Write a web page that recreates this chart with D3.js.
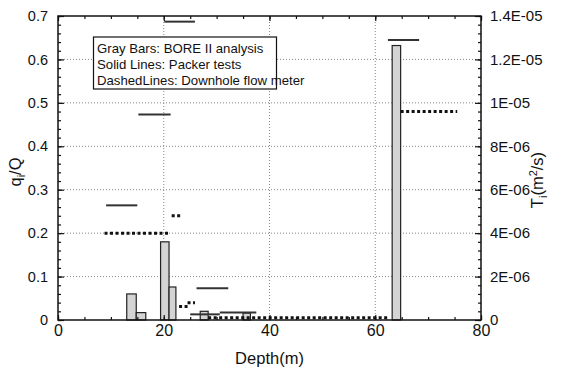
<!DOCTYPE html>
<html>
<head>
<meta charset="utf-8">
<script src="https://cdn.jsdelivr.net/npm/d3@7"></script>
<style>
  html, body { margin: 0; padding: 0; background: #fff; }
  svg { display: block; font-family: "Liberation Sans", Arial, Helvetica, sans-serif; }
</style>
</head>
<body>
<svg id="chart" width="566" height="370"></svg>
<script>
// BORE II inflow fractions per depth interval: [top (m), bottom (m), q_i/Q]
const boreBars = [
  [13.0, 14.8, 0.060],
  [14.8, 16.6, 0.017],
  [19.4, 21.0, 0.180],
  [21.0, 22.3, 0.076],
  [26.9, 28.4, 0.020],
  [35.0, 36.4, 0.016],
  [63.2, 64.8, 0.632]
];

// Packer test transmissivities: [top (m), bottom (m), T (m^2/s)]
const packerTests = [
  [9.1, 15.0, 5.28e-6],
  [15.2, 21.3, 9.46e-6],
  [20.1, 25.9, 1.374e-5],
  [26.2, 32.2, 1.46e-6],
  [25.0, 30.6, 2.6e-7],
  [30.6, 37.5, 3.4e-7],
  [62.4, 68.3, 1.29e-5]
];

// Downhole flow meter inflow fractions: [top (m), bottom (m), q_i/Q]
const flowMeter = [
  [8.8, 21.2, 0.200],
  [21.5, 23.1, 0.240],
  [22.9, 24.5, 0.031],
  [24.5, 25.9, 0.040],
  [28.4, 62.5, 0.005],
  [64.8, 75.5, 0.480]
];

const depthTicks = [0, 20, 40, 60, 80];
const qTicks = [0, 0.1, 0.2, 0.3, 0.4, 0.5, 0.6, 0.7];
const tTicks = [0, 2e-6, 4e-6, 6e-6, 8e-6, 1e-5, 1.2e-5, 1.4e-5];
const tTickLabels = ["0", "2E-06", "4E-06", "6E-06", "8E-06", "1E-05", "1.2E-05", "1.4E-05"];
const legendLines = [
  "Gray Bars: BORE II analysis",
  "Solid Lines: Packer tests",
  "DashedLines: Downhole flow meter"
];

const svg = d3.select("#chart");
const L = 58, R = 481, T = 16, B = 320;

const x = d3.scaleLinear().domain([0, 80]).range([L, R]);
const yQ = d3.scaleLinear().domain([0, 0.7]).range([B, T]);
const yT = d3.scaleLinear().domain([0, 1.4e-5]).range([B, T]);

// dotted grid at the major ticks
const grid = svg.append("g").attr("stroke", "#888").attr("stroke-width", 1).attr("stroke-dasharray", "1,2");
grid.selectAll("line.h").data(qTicks.slice(1, -1)).join("line")
  .attr("x1", L).attr("x2", R).attr("y1", d => yQ(d)).attr("y2", d => yQ(d));
grid.selectAll("line.v").data(depthTicks.slice(1, -1)).join("line")
  .attr("y1", T).attr("y2", B).attr("x1", d => x(d)).attr("x2", d => x(d));

// BORE II bars
svg.append("g").selectAll("rect").data(boreBars).join("rect")
  .attr("x", d => x(d[0]))
  .attr("width", d => x(d[1]) - x(d[0]))
  .attr("y", d => yQ(d[2]))
  .attr("height", d => yQ(0) - yQ(d[2]))
  .attr("fill", "#d4d4d4")
  .attr("stroke", "#222")
  .attr("stroke-width", 1.2);

// Packer tests (solid)
svg.append("g").selectAll("line").data(packerTests).join("line")
  .attr("x1", d => x(d[0])).attr("x2", d => x(d[1]))
  .attr("y1", d => yT(d[2])).attr("y2", d => yT(d[2]))
  .attr("stroke", "#333").attr("stroke-width", 2);

// Flow meter (heavy dots)
svg.append("g").selectAll("line").data(flowMeter).join("line")
  .attr("x1", d => x(d[0])).attr("x2", d => x(d[1]))
  .attr("y1", d => yQ(d[2])).attr("y2", d => yQ(d[2]))
  .attr("stroke", "#111").attr("stroke-width", 3)
  .attr("stroke-dasharray", "3,2.5");

// axes with inward ticks
const font = "Liberation Sans, Arial, Helvetica, sans-serif";
function styleAxis(g) {
  g.select(".domain").remove();
  g.selectAll(".tick line").attr("stroke", "#111").attr("stroke-width", 1.2);
  g.selectAll("text").attr("fill", "#111").attr("font-family", font);
}
const minorDepth = d3.range(0, 81, 5);
const minorQ = d3.range(0, 0.7001, 0.02);
const minorT = d3.range(0, 1.40001e-5, 4e-7);

// bottom
svg.append("g").attr("transform", `translate(0,${B})`)
  .call(d3.axisBottom(x).tickValues(minorDepth).tickSize(-3).tickFormat(""))
  .call(styleAxis);
svg.append("g").attr("transform", `translate(0,${B})`)
  .call(d3.axisBottom(x).tickValues(depthTicks).tickSize(-5).tickPadding(5).tickFormat(d3.format("d")))
  .call(styleAxis)
  .call(g => g.selectAll("text").attr("font-size", 16));
// top
svg.append("g").attr("transform", `translate(0,${T})`)
  .call(d3.axisTop(x).tickValues(minorDepth).tickSize(-3).tickFormat(""))
  .call(styleAxis);
svg.append("g").attr("transform", `translate(0,${T})`)
  .call(d3.axisTop(x).tickValues(depthTicks).tickSize(-5).tickFormat(""))
  .call(styleAxis);
// left
svg.append("g").attr("transform", `translate(${L},0)`)
  .call(d3.axisLeft(yQ).tickValues(minorQ).tickSize(-3).tickFormat(""))
  .call(styleAxis);
svg.append("g").attr("transform", `translate(${L},0)`)
  .call(d3.axisLeft(yQ).tickValues(qTicks).tickSize(-6).tickPadding(10).tickFormat(d => d === 0 ? "0" : d3.format(".1f")(d)))
  .call(styleAxis)
  .call(g => g.selectAll("text").attr("font-size", 14.5));
// right
svg.append("g").attr("transform", `translate(${R},0)`)
  .call(d3.axisRight(yT).tickValues(minorT).tickSize(-3).tickFormat(""))
  .call(styleAxis);
svg.append("g").attr("transform", `translate(${R},0)`)
  .call(d3.axisRight(yT).tickValues(tTicks).tickSize(-6).tickPadding(9).tickFormat((d, i) => tTickLabels[i]))
  .call(styleAxis)
  .call(g => g.selectAll("text").attr("font-size", 15));

// frame
svg.append("rect").attr("x", L).attr("y", T).attr("width", R - L).attr("height", B - T)
  .attr("fill", "none").attr("stroke", "#111").attr("stroke-width", 1.5);

// legend box
const lg = svg.append("g");
lg.append("rect").attr("x", 93.5).attr("y", 37).attr("width", 183).attr("height", 52)
  .attr("fill", "#fff").attr("stroke", "#111").attr("stroke-width", 1.2);
lg.selectAll("text").data(legendLines).join("text")
  .attr("x", 97).attr("y", (d, i) => 52.5 + i * 16)
  .attr("font-size", 13.2).attr("fill", "#111")
  .text(d => d);

// axis titles
svg.append("text").attr("x", (L + R) / 2).attr("y", 364)
  .attr("text-anchor", "middle").attr("font-size", 16.5).attr("fill", "#111")
  .text("Depth(m)");

const yl = svg.append("text").attr("transform", "translate(21,172) rotate(-90)")
  .attr("text-anchor", "middle").attr("font-size", 16.5).attr("fill", "#111");
yl.append("tspan").text("q");
yl.append("tspan").attr("font-size", 11).attr("dy", 4).text("i");
yl.append("tspan").attr("dy", -4).text("/Q");

const yr = svg.append("text").attr("transform", "translate(543,180) rotate(-90)")
  .attr("text-anchor", "middle").attr("font-size", 16.5).attr("fill", "#111");
yr.append("tspan").text("T");
yr.append("tspan").attr("font-size", 11).attr("dy", 4).text("i");
yr.append("tspan").attr("dy", -4).text("(m");
yr.append("tspan").attr("font-size", 11).attr("dy", -6).text("2");
yr.append("tspan").attr("dy", 6).text("/s)");
</script>
</body>
</html>
